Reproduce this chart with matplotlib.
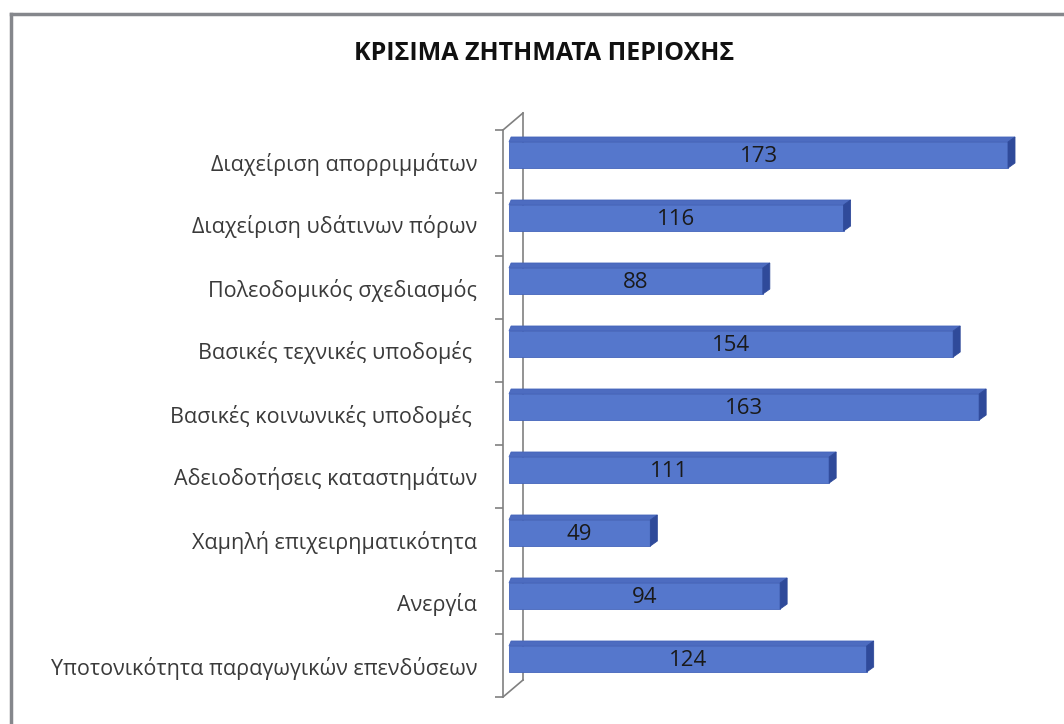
import matplotlib
matplotlib.use("Agg")
import matplotlib.pyplot as plt
from matplotlib.patches import Polygon
from matplotlib.lines import Line2D

# data (top to bottom)
categories = [
    "Διαχείριση απορριμμάτων",
    "Διαχείριση υδάτινων πόρων",
    "Πολεοδομικός σχεδιασμός",
    "Βασικές τεχνικές υποδομές ",
    "Βασικές κοινωνικές υποδομές ",
    "Αδειοδοτήσεις καταστημάτων",
    "Χαμηλή επιχειρηματικότητα",
    "Ανεργία",
    "Υποτονικότητα παραγωγικών επενδύσεων",
]
values = [173, 116, 88, 154, 163, 111, 49, 94, 124]
title = "ΚΡΙΣΙΜΑ ΖΗΤΗΜΑΤΑ ΠΕΡΙΟΧΗΣ"

plt.rcParams['font.family'] = ['Open Sans', 'DejaVu Sans']

W, H = 1064, 724
fig = plt.figure(figsize=(W / 100, H / 100), dpi=100)
fig.patch.set_facecolor('white')

# axes placed in pixels
ax_l, ax_r, ax_t, ax_b = 503, 1050, 130, 697
ax = fig.add_axes([ax_l / W, (H - ax_b) / H, (ax_r - ax_l) / W, (ax_b - ax_t) / H])

k = 499 / 173.0          # px per unit
x0_px = 509               # where value 0 sits
xmin = -(x0_px - ax_l) / k
xmax = (ax_r - x0_px) / k
n = len(categories)
ax.set_xlim(xmin, xmax)
ax.set_ylim(n - 0.5, -0.5)
py = (ax_b - ax_t) / n    # px per category unit

# 3d depth offsets in data units
ddx = 7 / k
ddy = 5 / py

front = '#5577cc'
top_c = '#4d6cc0'
side_c = '#2f4a9a'
edge = '#4464bb'

ypos = [i - 6.5 / py for i in range(n)]
bh = 26 / py
ax.barh(ypos, values, height=bh, color=front, edgecolor=edge, linewidth=0.6, zorder=3)
for y, v in zip(ypos, values):
    yt = y - bh / 2
    yb = y + bh / 2
    ax.add_patch(Polygon([(0, yt), (v, yt), (v + ddx, yt - ddy), (0 + ddx * 0.3, yt - ddy)],
                         closed=True, facecolor=top_c, edgecolor=edge, lw=0.6, zorder=3))
    ax.add_patch(Polygon([(v, yt), (v + ddx, yt - ddy), (v + ddx, yb - ddy), (v, yb)],
                         closed=True, facecolor=side_c, edgecolor=side_c, lw=0.6, zorder=3))
    ax.text(v / 2, y + 0.03, str(v), ha='center', va='center', fontsize=16,
            color='#1a1a1a', zorder=4)

# wall lines
wx = 20 / k
wy = 17 / py
wall = '#808080'
ax.plot([xmin + wx, xmin + wx], [-0.5 - wy, n - 0.5 - wy], color=wall, lw=1.2, zorder=1, clip_on=False)
ax.plot([xmin, xmin + wx], [-0.5, -0.5 - wy], color=wall, lw=1.2, zorder=1, clip_on=False)
ax.plot([xmin, xmin + wx], [n - 0.5, n - 0.5 - wy], color=wall, lw=1.2, zorder=1, clip_on=False)

for s in ['top', 'right', 'bottom']:
    ax.spines[s].set_visible(False)
ax.spines['left'].set_color(wall)
ax.spines['left'].set_linewidth(1.2)
ax.set_facecolor('none')
ax.set_xticks([])
ax.set_yticks(range(n))
ax.set_yticklabels(categories, fontsize=15.5, color='#3a3a3a')
ax.set_yticks([i - 0.5 for i in range(n + 1)], minor=True)
ax.tick_params(axis='y', which='major', length=0, pad=18.5)
ax.tick_params(axis='y', which='minor', length=6, width=1.2, color=wall)

fig.text(544 / W, 1 - 53 / H, title, ha='center', va='center', fontsize=18,
         fontweight='bold', color='#111111')

# frame around the chart
fig.add_artist(Line2D([11 / W, 11 / W], [0, 1 - 14 / H], color='#85878c', lw=2.5))
fig.add_artist(Line2D([11 / W, 1], [1 - 14 / H, 1 - 14 / H], color='#85878c', lw=2.5))

fig.savefig('out.png', dpi=100)
